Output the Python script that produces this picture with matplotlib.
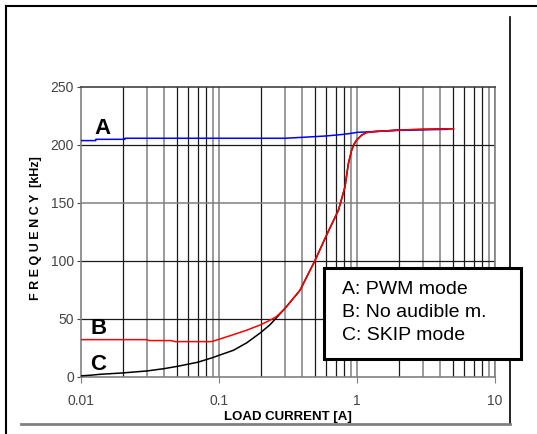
import matplotlib
matplotlib.use("Agg")
import matplotlib.pyplot as plt
from matplotlib.lines import Line2D
from matplotlib.patches import Rectangle

# curve A: PWM mode
current_a = [0.01, 0.0128, 0.0128, 0.0208, 0.0208, 0.3, 0.4, 0.6, 0.8, 0.9, 1.0, 2.0, 4.5]
freq_a = [203.8, 203.8, 204.9, 204.9, 205.8, 205.8, 206.6, 207.8, 209.2, 210.0, 210.9, 212.6, 213.5]

# curve B: no audible mode
current_b = [0.01, 0.03, 0.031, 0.045, 0.048, 0.088, 0.1, 0.127, 0.16, 0.2, 0.23, 0.26,
             0.3, 0.386, 0.497, 0.6, 0.733, 0.818, 0.866, 0.914, 0.95, 0.99, 1.08, 1.17,
             1.32, 2.0, 3.0, 5.0]
freq_b = [32.2, 32.2, 31.4, 31.4, 30.5, 30.5, 32.5, 36.5, 40.5, 45.0, 48.5, 52.0,
          59.0, 74.7, 100.6, 122.0, 143.7, 163.8, 184.0, 195.4, 200.5, 204.0, 208.5, 210.7,
          211.5, 212.9, 213.5, 214.0]

# curve C: skip mode
current_c = [0.01, 0.0116, 0.0137, 0.02, 0.03, 0.04, 0.05, 0.07, 0.09, 0.1, 0.127, 0.159,
             0.199, 0.234, 0.27, 0.3, 0.386, 0.497, 0.6, 0.733, 0.818, 0.866, 0.914, 0.95,
             0.99, 1.08, 1.17, 1.32, 2.0, 3.0, 5.0]
freq_c = [1.0, 1.5, 2.3, 3.5, 5.2, 7.2, 9.2, 12.7, 16.7, 18.7, 23.0, 29.5,
          38.0, 45.0, 53.0, 59.0, 74.7, 100.6, 122.0, 143.7, 163.8, 184.0, 195.4, 200.5,
          204.0, 208.5, 210.7, 211.5, 212.9, 213.5, 214.0]

x_ticks = [0.01, 0.1, 1, 10]
x_tick_labels = ["0.01", "0.1", "1", "10"]
y_ticks = [0, 50, 100, 150, 200, 250]
legend_lines = ["A: PWM mode", "B: No audible m.", "C: SKIP mode"]

GRAY = "#808080"
DARK = "#1a1a1a"
narrow = ["Liberation Sans Narrow", "Liberation Sans", "DejaVu Sans"]
arial = ["Liberation Sans", "DejaVu Sans"]

fig = plt.figure(figsize=(5.37, 4.34), dpi=100)
ax = fig.add_axes([81 / 537, 1 - 377 / 434, 414 / 537, 290 / 434])
ax.set_xscale("log")
ax.set_xlim(0.01, 10)
ax.set_ylim(0, 250)

# grid: gray at 1,3,4,9 of each decade, black at 2,5,6,7,8
for decade in [0.01, 0.1, 1]:
    for m in range(2, 11):
        col = GRAY if m in (3, 4, 9, 10) else DARK
        ax.axvline(decade * m, color=col, lw=1.1 if col == GRAY else 0.9, zorder=1)
for yv, col in zip([50, 100, 150, 200], [DARK, DARK, GRAY, DARK]):
    ax.axhline(yv, color=col, lw=1.1 if col == GRAY else 0.9, zorder=1)

for side in ["left", "bottom", "right"]:
    ax.spines[side].set_color(GRAY)
    ax.spines[side].set_linewidth(1.2)
ax.spines["top"].set_color("#333333")
ax.spines["top"].set_linewidth(1.1)

ax.plot(current_c, freq_c, color="black", lw=1.1, zorder=3)
ax.plot(current_a, freq_a, color="#0000ff", lw=1.1, zorder=3)
ax.plot(current_b, freq_b, color="#ff0000", lw=1.1, zorder=4)

ax.set_xticks(x_ticks)
ax.set_xticklabels(x_tick_labels)
ax.xaxis.set_minor_locator(matplotlib.ticker.NullLocator())
ax.set_yticks(y_ticks)
ax.tick_params(axis="x", length=4, width=0.8, color=GRAY, pad=8, labelsize=10,
               labelcolor="#444444")
ax.tick_params(axis="y", length=3, width=0.8, color="#444444", pad=2, labelsize=10,
               labelcolor="#444444")
for lab in ax.get_xticklabels() + ax.get_yticklabels():
    lab.set_family(narrow)

ax.set_xlabel("LOAD CURRENT [A]", fontsize=9.5, fontweight="bold", family=arial, labelpad=0)
ax.xaxis.set_label_coords((288 - 81) / 414, -(411 - 377) / 290)
ax.set_ylabel("F R E Q U E N C Y  [kHz]", fontsize=9, fontweight="bold", family=arial)
ax.yaxis.set_label_coords(-(81 - 42) / 414, (377 - 228) / 290)

ax.text(0.0144, 214.5, "A", fontsize=16, fontweight="bold", family=arial,
        ha="center", va="center", zorder=5)
ax.text(0.0133, 41.4, "B", fontsize=16, fontweight="bold", family=arial,
        ha="center", va="center", zorder=5)
ax.text(0.0133, 11.2, "C", fontsize=16, fontweight="bold", family=arial,
        ha="center", va="center", zorder=5)

# outer frame
fig.add_artist(Line2D([6 / 537, 6 / 537], [0, 1 - 6 / 434], color="black", lw=1.5))
fig.add_artist(Line2D([6 / 537, 1], [1 - 6 / 434, 1 - 6 / 434], color="black", lw=1.5))
fig.add_artist(Line2D([510 / 537, 510 / 537], [1 - 17 / 434, 1 - 424 / 434],
                      color="black", lw=1.2))
fig.add_artist(Line2D([21 / 537, 510 / 537], [1 - 424 / 434, 1 - 424 / 434],
                      color=GRAY, lw=2))

# legend box
fig.add_artist(Rectangle((324 / 537, 1 - 359 / 434), 197 / 537, 91 / 434,
                         facecolor="white", edgecolor="black", lw=2.2, zorder=10))
for i, line in enumerate(legend_lines):
    fig.text(342 / 537, 1 - (290 + 22.5 * i) / 434, line, fontsize=14, family=arial,
             ha="left", va="center", zorder=11)

fig.savefig("out.png", dpi=100)
